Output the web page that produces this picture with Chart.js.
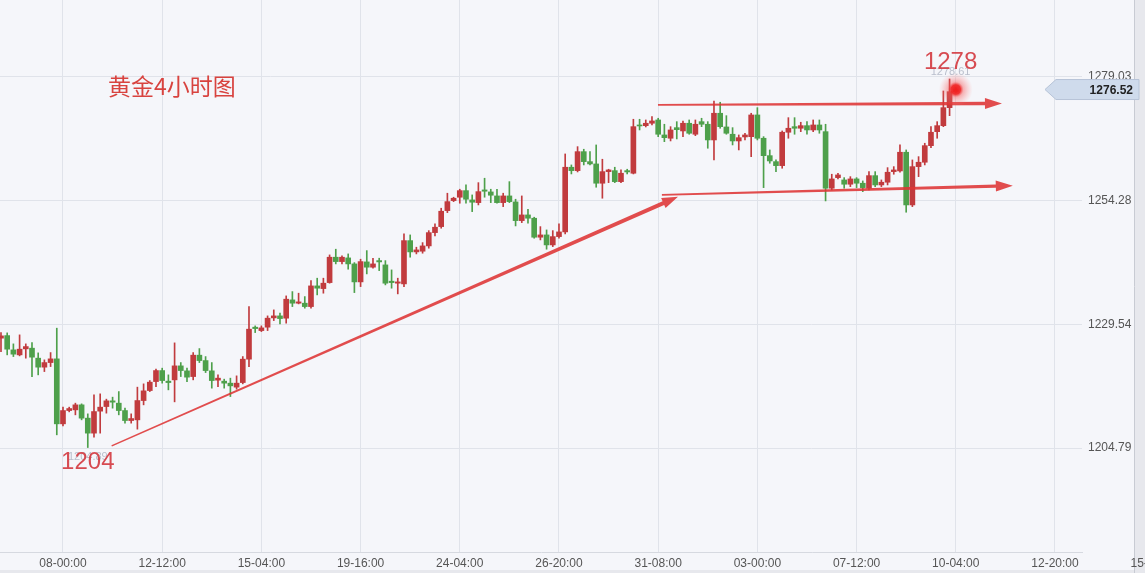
<!DOCTYPE html>
<html>
<head>
<meta charset="utf-8">
<script src="https://cdn.jsdelivr.net/npm/chart.js@4.4.1/dist/chart.umd.min.js"></script>
<style>
  html, body { margin: 0; padding: 0; background: #f5f6fa; }
  #wrap { position: relative; width: 1145px; height: 573px; }
</style>
</head>
<body>
<div id="wrap"><canvas id="goldChart"></canvas></div>
<script>
// свечи 4ч, значения
const opens = [
	1226.77, 1227.29, 1224.43, 1223.43, 1224.63, 1224.77, 1222.77, 1220.97, 1221.89, 1222.63,
	1209.63, 1212.29, 1212.43, 1213.43, 1210.77, 1207.77, 1212.17, 1213.09, 1214.23, 1213.77,
	1212.29, 1210.29, 1210.43, 1214.29, 1216.29, 1218.09, 1220.29, 1218.17, 1218.43, 1221.23,
	1220.23, 1219.09, 1223.37, 1222.29, 1220.23, 1218.37, 1218.17, 1217.77, 1216.97, 1217.89,
	1222.57, 1228.97, 1228.29, 1228.97, 1230.83, 1231.23, 1230.77, 1234.43, 1233.77, 1233.77,
	1233.09, 1237.23, 1236.69, 1237.89, 1242.97, 1242.09, 1242.83, 1241.63, 1238.03, 1242.03,
	1240.97, 1242.29, 1241.43, 1238.17, 1237.77, 1237.63, 1246.29, 1244.03, 1244.17, 1245.23,
	1247.89, 1249.09, 1252.29, 1254.29, 1254.97, 1256.29, 1254.43, 1253.89, 1256.43, 1256.03,
	1255.23, 1253.89, 1255.23, 1254.03, 1250.29, 1251.43, 1250.77, 1246.97, 1247.43, 1245.43,
	1247.09, 1248.03, 1260.97, 1260.29, 1264.09, 1262.09, 1261.63, 1257.77, 1260.09, 1260.29,
	1258.09, 1260.29, 1259.77, 1269.43, 1269.29, 1269.77, 1270.43, 1267.43, 1266.77, 1268.89,
	1268.23, 1269.77, 1267.57, 1270.09, 1269.57, 1266.43, 1271.77, 1269.03, 1267.57, 1266.23,
	1267.03, 1267.09, 1271.43, 1266.77, 1263.29, 1262.09, 1261.29, 1267.97, 1269.09, 1268.77,
	1269.29, 1268.43, 1269.43, 1268.09, 1256.77, 1258.89, 1258.43, 1257.57, 1258.63, 1257.77,
	1256.77, 1259.29, 1257.43, 1257.97, 1260.09, 1260.23, 1263.97, 1253.43, 1261.09, 1261.97,
	1265.29, 1268.09, 1269.29, 1272.89, 1276.09
]
const highs = [
	1227.89, 1227.83, 1225.63, 1227.43, 1225.63, 1225.89, 1223.83, 1222.43, 1223.89, 1228.77,
	1212.97, 1212.97, 1213.77, 1213.63, 1211.63, 1215.43, 1215.63, 1214.57, 1214.97, 1216.09,
	1212.77, 1211.63, 1216.97, 1217.63, 1218.29, 1220.57, 1220.77, 1219.43, 1225.83, 1221.89,
	1220.77, 1223.89, 1224.69, 1223.09, 1221.89, 1219.43, 1218.57, 1218.77, 1219.23, 1223.09,
	1233.09, 1229.23, 1229.23, 1231.23, 1232.43, 1231.77, 1235.23, 1236.09, 1235.77, 1235.09,
	1238.29, 1238.77, 1238.77, 1243.43, 1244.57, 1243.23, 1243.63, 1241.89, 1242.57, 1244.29,
	1242.77, 1242.77, 1242.29, 1240.43, 1238.77, 1247.63, 1247.43, 1244.97, 1245.89, 1248.29,
	1249.63, 1252.77, 1255.77, 1254.97, 1256.57, 1257.43, 1255.43, 1257.89, 1258.77, 1256.57,
	1256.57, 1255.77, 1258.09, 1254.57, 1255.23, 1252.57, 1250.97, 1249.09, 1248.43, 1248.29,
	1249.63, 1263.63, 1261.43, 1265.09, 1264.57, 1264.09, 1265.43, 1262.57, 1260.57, 1260.97,
	1260.43, 1260.57, 1270.57, 1270.57, 1270.43, 1271.09, 1270.77, 1269.57, 1269.09, 1270.09,
	1270.23, 1270.43, 1270.43, 1270.77, 1270.09, 1274.23, 1273.97, 1271.29, 1268.89, 1267.43,
	1267.77, 1271.77, 1272.89, 1267.09, 1264.43, 1262.43, 1268.23, 1270.89, 1270.89, 1269.97,
	1270.09, 1270.43, 1270.43, 1269.57, 1259.57, 1259.77, 1258.89, 1259.09, 1258.89, 1258.23,
	1260.09, 1260.09, 1258.43, 1260.89, 1261.09, 1265.43, 1264.43, 1262.43, 1263.09, 1265.77,
	1269.09, 1270.09, 1276.23, 1278.63, 1276.9
]
const lows = [
	1224.09, 1223.43, 1223.09, 1223.23, 1222.77, 1219.09, 1219.43, 1220.09, 1221.09, 1207.43,
	1209.23, 1212.03, 1211.43, 1210.43, 1204.89, 1206.97, 1207.77, 1211.77, 1212.77, 1211.43,
	1209.77, 1209.77, 1208.57, 1213.43, 1216.09, 1217.09, 1217.77, 1216.43, 1214.03, 1219.09,
	1218.09, 1218.43, 1221.89, 1219.89, 1216.77, 1217.09, 1216.77, 1215.09, 1216.57, 1217.63,
	1221.09, 1227.89, 1228.09, 1228.29, 1230.29, 1229.63, 1229.77, 1233.09, 1233.63, 1232.77,
	1232.77, 1235.43, 1235.77, 1237.77, 1241.63, 1241.63, 1240.57, 1235.89, 1237.09, 1239.63,
	1240.77, 1240.29, 1237.43, 1236.77, 1235.63, 1237.09, 1242.97, 1243.63, 1243.77, 1244.77,
	1247.23, 1248.77, 1251.89, 1254.09, 1253.77, 1253.77, 1252.09, 1253.43, 1254.97, 1253.89,
	1253.77, 1253.09, 1253.89, 1249.23, 1249.89, 1249.77, 1246.77, 1246.43, 1244.57, 1245.09,
	1246.77, 1247.63, 1259.63, 1260.03, 1261.43, 1261.43, 1256.97, 1254.77, 1257.89, 1257.89,
	1257.89, 1259.63, 1259.63, 1268.43, 1269.03, 1269.43, 1267.09, 1266.09, 1266.23, 1266.63,
	1267.09, 1267.57, 1267.29, 1269.09, 1264.77, 1262.43, 1268.77, 1267.57, 1265.43, 1264.43,
	1266.43, 1263.09, 1266.43, 1256.89, 1261.77, 1260.09, 1260.77, 1266.77, 1267.57, 1268.09,
	1267.57, 1268.09, 1267.77, 1254.23, 1256.43, 1258.63, 1256.77, 1257.09, 1256.89, 1256.09,
	1256.43, 1257.09, 1257.09, 1257.43, 1259.57, 1259.97, 1251.97, 1253.09, 1259.09, 1261.43,
	1264.89, 1266.77, 1269.09, 1271.29, 1275.9
]
const closes = [
	1227.23, 1224.57, 1223.57, 1224.57, 1225.09, 1222.97, 1220.97, 1221.89, 1222.63, 1209.63,
	1212.29, 1212.69, 1213.43, 1210.77, 1207.77, 1212.09, 1212.97, 1214.23, 1213.97, 1212.29,
	1210.29, 1210.69, 1214.29, 1216.23, 1217.97, 1220.29, 1218.29, 1217.89, 1221.23, 1220.29,
	1218.97, 1223.37, 1222.29, 1220.29, 1218.29, 1218.77, 1217.77, 1217.23, 1217.77, 1222.57,
	1228.57, 1228.69, 1228.83, 1230.77, 1231.23, 1230.69, 1234.57, 1233.77, 1234.03, 1233.09,
	1237.23, 1236.77, 1237.77, 1242.97, 1242.09, 1242.97, 1241.63, 1238.03, 1242.09, 1240.97,
	1241.63, 1242.03, 1237.77, 1237.89, 1238.03, 1246.29, 1244.03, 1244.43, 1245.23, 1247.89,
	1248.97, 1252.17, 1254.09, 1254.77, 1256.29, 1254.57, 1253.97, 1256.09, 1256.17, 1255.37,
	1253.89, 1255.23, 1254.09, 1250.29, 1251.43, 1250.77, 1246.97, 1247.43, 1245.43, 1247.09,
	1248.03, 1260.97, 1260.29, 1264.09, 1262.09, 1261.63, 1257.77, 1260.09, 1260.43, 1258.09,
	1259.77, 1260.03, 1269.09, 1269.23, 1269.77, 1270.23, 1267.57, 1266.89, 1268.43, 1268.49,
	1269.77, 1267.77, 1269.57, 1269.57, 1266.43, 1271.77, 1269.09, 1267.77, 1266.23, 1266.89,
	1267.43, 1271.43, 1266.77, 1263.29, 1262.23, 1261.29, 1267.97, 1268.77, 1268.77, 1269.29,
	1268.43, 1269.43, 1268.43, 1256.77, 1258.63, 1259.43, 1257.57, 1258.63, 1257.77, 1256.89,
	1259.29, 1257.43, 1257.97, 1259.97, 1260.43, 1263.97, 1253.43, 1261.09, 1261.97, 1265.29,
	1267.97, 1269.29, 1272.89, 1276.09, 1276.52
]

// подписи оси времени (индекс свечи -> метка)
const tickIndex = [10, 26, 42, 58, 74, 90, 106, 122, 138, 154, 170, 186]
const tickLabels = ['08-00:00', '12-12:00', '15-04:00', '19-16:00', '24-04:00', '26-20:00',
	'31-08:00', '03-00:00', '07-12:00', '10-04:00', '12-20:00', '15-12:00']
const priceTicks = [1204.79, 1229.54, 1254.28, 1279.03]
const lastPrice = 1276.52

const chartTitle = '黄金4小时图'
const highMark = { idx: 153, text: '1278', sub: '1278.61' }
const lowMark = { idx: 14, text: '1204', sub: '1204.89' }

// линии разметки: [индекс свечи, цена]
const trendLine = [[17.85, 1205.23], [109.2, 1255.09]]
const resistLine = [[105.97, 1273.43], [161.45, 1273.73]]
const supportLine = [[106.6, 1255.43], [163.2, 1257.29]]

const UP = '#c13b3e'
const DOWN = '#4ea04b'
const MARK = 'rgba(222, 52, 52, 0.88)'

const candleColors = closes.map((c, i) => (c >= opens[i] ? UP : DOWN))
const bodies = opens.map((o, i) => ({ x: i, y: [o, closes[i]] }))
const wicks = lows.map((l, i) => ({ x: i, y: [l, highs[i]] }))

function drawArrow(ctx, x1, y1, x2, y2, w1, w2, headLen, headW) {
	const len = Math.hypot(x2 - x1, y2 - y1)
	const ux = (x2 - x1) / len
	const uy = (y2 - y1) / len
	const nx = -uy
	const ny = ux
	const bx = x2 - ux * headLen
	const by = y2 - uy * headLen

	ctx.beginPath()
	ctx.moveTo(x1 + nx * w1 / 2, y1 + ny * w1 / 2)
	ctx.lineTo(bx + nx * w2 / 2, by + ny * w2 / 2)
	ctx.lineTo(bx + nx * headW, by + ny * headW)
	ctx.lineTo(x2, y2)
	ctx.lineTo(bx - nx * headW, by - ny * headW)
	ctx.lineTo(bx - nx * w2 / 2, by - ny * w2 / 2)
	ctx.lineTo(x1 - nx * w1 / 2, y1 - ny * w1 / 2)
	ctx.closePath()
	ctx.fill()
}

const chartDecor = {
	id: 'chartDecor',
	beforeDraw(chart) {
		const { ctx, width, height } = chart
		ctx.save()
		ctx.fillStyle = '#f5f6fa'
		ctx.fillRect(0, 0, width, height)
		// правая и нижняя рамка
		ctx.fillStyle = '#e7e8ed'
		ctx.fillRect(1135, 0, width - 1135, height)
		ctx.fillRect(0, height - 3, width, 3)
		ctx.strokeStyle = '#c8cbd3'
		ctx.lineWidth = 1
		ctx.beginPath()
		ctx.moveTo(1134.5, 0)
		ctx.lineTo(1134.5, height)
		ctx.stroke()
		ctx.restore()
	},
	afterDraw(chart) {
		const { ctx } = chart
		const xs = chart.scales.x
		const ys = chart.scales.y
		const px = v => xs.getPixelForValue(v)
		const py = v => ys.getPixelForValue(v)

		ctx.save()

		// линии со стрелками
		ctx.fillStyle = MARK
		drawArrow(ctx, px(trendLine[0][0]), py(trendLine[0][1]), px(trendLine[1][0]), py(trendLine[1][1]), 1.5, 4, 16, 5.5)
		drawArrow(ctx, px(resistLine[0][0]), py(resistLine[0][1]), px(resistLine[1][0]), py(resistLine[1][1]), 1.8, 3.6, 17, 5.5)
		drawArrow(ctx, px(supportLine[0][0]), py(supportLine[0][1]), px(supportLine[1][0]), py(supportLine[1][1]), 1.8, 3.2, 17, 5.5)

		// текущая цена: светящаяся точка
		const gx = px(opens.length - 1)
		const gy = py(lastPrice)
		const glow = ctx.createRadialGradient(gx, gy, 0, gx, gy, 17)
		glow.addColorStop(0, 'rgba(240, 30, 30, 1)')
		glow.addColorStop(0.28, 'rgba(240, 40, 40, 0.95)')
		glow.addColorStop(0.45, 'rgba(245, 90, 90, 0.45)')
		glow.addColorStop(1, 'rgba(255, 140, 140, 0)')
		ctx.fillStyle = glow
		ctx.beginPath()
		ctx.arc(gx, gy, 17, 0, Math.PI * 2)
		ctx.fill()

		// подписи экстремумов
		ctx.textAlign = 'center'
		ctx.textBaseline = 'middle'
		ctx.font = '11px "Liberation Sans"'
		ctx.fillStyle = 'rgba(160, 166, 184, 0.7)'
		ctx.fillText(highMark.sub, px(highMark.idx) + 1, py(highs[highMark.idx]) - 7)
		ctx.fillText(lowMark.sub, px(lowMark.idx), py(lows[lowMark.idx]) + 9)

		ctx.font = '24px "Liberation Sans"'
		ctx.fillStyle = 'rgba(212, 60, 66, 0.92)'
		ctx.fillText(highMark.text, px(highMark.idx) + 1, py(highs[highMark.idx]) - 17)
		ctx.fillText(lowMark.text, px(lowMark.idx), py(lows[lowMark.idx]) + 15)

		ctx.textAlign = 'left'
		ctx.font = '23px "Noto Sans CJK SC"'
		ctx.fillStyle = '#d8433f'
		ctx.fillText(chartTitle, 108, 86)

		// ярлык последней цены
		const ty = py(lastPrice)
		ctx.fillStyle = '#cfdbec'
		ctx.strokeStyle = '#b7c4d8'
		ctx.beginPath()
		ctx.moveTo(1045, ty)
		ctx.lineTo(1056, ty - 10)
		ctx.lineTo(1139, ty - 10)
		ctx.lineTo(1139, ty + 10)
		ctx.lineTo(1056, ty + 10)
		ctx.closePath()
		ctx.fill()
		ctx.stroke()
		ctx.textAlign = 'right'
		ctx.font = 'bold 12px "Liberation Sans"'
		ctx.fillStyle = '#222'
		ctx.fillText(lastPrice.toFixed(2), 1133, ty + 1)

		ctx.restore()
	},
}

const tickFont = { family: 'Liberation Sans', size: 12 }

new Chart(document.getElementById('goldChart'), {
	type: 'bar',
	data: {
		datasets: [
			{
				label: 'body',
				data: bodies,
				backgroundColor: candleColors,
				barThickness: 5,
				grouped: false,
				borderWidth: 0,
			},
			{
				label: 'wick',
				data: wicks,
				backgroundColor: candleColors,
				barThickness: 1,
				grouped: false,
				borderWidth: 0,
			},
		],
	},
	options: {
		responsive: true,
		maintainAspectRatio: false,
		animation: false,
		layout: { padding: 0 },
		plugins: {
			legend: { display: false },
			tooltip: { enabled: false },
		},
		scales: {
			x: {
				type: 'linear',
				min: -0.16,
				max: 174.36,
				bounds: 'data',
				offset: false,
				grid: { color: '#e0e3ea', drawTicks: false, offset: false },
				border: { display: true, color: '#d6d9e0' },
				ticks: {
					autoSkip: false,
					maxRotation: 0,
					padding: 4,
					color: '#555',
					font: tickFont,
					callback: (v, i) => tickLabels[i],
				},
				afterBuildTicks: s => {
					s.ticks = tickIndex.map(v => ({ value: v }))
				},
				afterFit: s => {
					s.height = 21
					s.paddingLeft = 0
					s.paddingRight = 0
				},
			},
			y: {
				type: 'linear',
				position: 'right',
				min: 1183.99,
				max: 1294.43,
				bounds: 'data',
				grid: { color: '#e0e3ea', drawTicks: false },
				border: { display: false },
				ticks: {
					crossAlign: 'near',
					padding: 6,
					color: '#555',
					font: tickFont,
					callback: v => v.toFixed(2),
				},
				afterBuildTicks: s => {
					s.ticks = priceTicks.map(v => ({ value: v }))
				},
				afterFit: s => {
					s.width = 63
					s.paddingTop = 0
					s.paddingBottom = 0
				},
			},
		},
	},
	plugins: [chartDecor],
})
</script>
</body>
</html>
